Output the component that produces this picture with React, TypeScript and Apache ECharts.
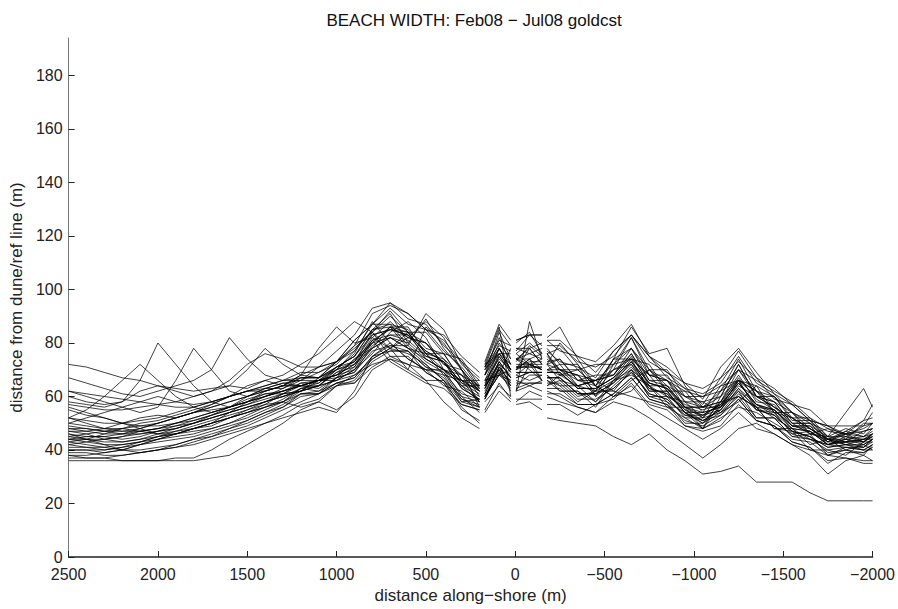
import React, { useEffect, useRef } from "react";
import * as echarts from "echarts";

const titleText = "BEACH WIDTH: Feb08 − Jul08 goldcst";
const xAxisName = "distance along−shore (m)";
const yAxisName = "distance from dune/ref line (m)";

// along-shore positions (m) of the transects
const distances = [
  2500, 2400, 2300, 2200, 2100, 2000, 1900, 1800, 1700, 1600,
  1500, 1400, 1300, 1200, 1100, 1000, 900, 800, 700, 600,
  500, 400, 300, 200, 170, 90, 25, -5, -80, -150,
  -178, -250, -350, -450, -550, -650, -750, -850, -950, -1050,
  -1150, -1250, -1350, -1450, -1550, -1650, -1750, -1850, -1950, -2000,
];
// transects with no data (lines are broken there)
const gapDistances = [183, 10, -163];

const yTicks = [0, 20, 40, 60, 80, 100, 120, 140, 160, 180];

// beach width (m), one array per survey
const p01 = [72,71,69,67,66,64,63,62,63,64, 63,66,64,68,67,73,78,84,90,84, 80,72,70,62,70,76,70,74,78,72, 75,70,68,60,72,74,68,60,58,52, 62,66,62,54,52,46,45,43,47,48];
const p02 = [36,36,36,36,36,36,37,37,40,44, 47,50,52,54,56,54,62,75,80,74, 70,68,58,56,60,70,64,68,66,68, 66,62,62,58,64,70,60,58,50,50, 54,60,52,52,45,44,40,41,40,42];
const p03 = [38,37,37,36,36,36,36,36,37,38, 42,46,50,55,58,64,66,74,78,84, 74,70,60,58,66,68,70,62,72,66, 72,66,64,58,66,74,62,62,54,50, 58,60,56,48,48,42,44,40,42,40];
const p04 = [40,40,39,40,42,44,45,46,48,50, 52,55,58,62,64,70,76,88,80,74, 70,64,62,56,64,76,70,76,72,70, 74,70,64,66,68,76,64,64,56,54, 56,66,56,55,48,47,42,44,43,45];
const p05 = [42,41,40,41,43,45,46,48,49,52, 54,57,58,63,65,70,72,82,88,82, 80,72,68,58,62,72,64,70,74,66, 68,62,62,56,66,68,64,56,56,48, 57,60,56,48,47,40,40,38,43,43];
const p06 = [45,44,43,43,44,46,47,49,51,53, 55,58,61,62,66,67,74,78,86,78, 76,68,66,58,68,78,70,74,72,72, 76,68,68,62,70,72,62,62,54,54, 56,66,55,54,46,47,42,44,42,44];
const p07 = [47,46,44,43,44,45,47,48,50,52, 55,57,61,62,67,70,77,85,91,80, 89,78,70,60,68,80,74,76,80,76, 78,72,72,64,74,78,68,66,58,56, 60,72,60,58,50,50,44,46,45,47];
const p08 = [48,48,47,47,48,50,52,54,55,56, 58,60,62,65,66,71,75,85,86,86, 76,74,64,64,70,82,72,78,76,78, 73,74,66,66,70,82,68,68,58,58, 60,72,60,60,51,51,44,47,45,48];
const p09 = [50,52,54,56,58,60,58,57,58,60, 62,63,65,66,69,72,79,84,92,84, 84,76,74,64,72,76,76,70,78,72, 76,70,70,64,74,74,72,62,62,54, 64,66,64,54,54,46,48,44,50,50];
const p10 = [55,53,52,50,49,49,50,51,53,55, 57,59,61,64,64,69,73,84,75,72, 66,66,58,59,60,70,62,66,64,66, 64,66,60,62,62,70,60,60,52,52, 54,62,52,52,45,46,38,40,38,42];
const p11 = [60,58,57,58,66,80,72,64,58,56, 58,61,61,65,65,71,73,83,85,84, 76,76,66,66,66,78,70,72,72,74, 70,72,64,66,68,76,66,66,56,56, 58,68,58,57,49,49,42,45,43,46];
const p12 = [62,60,58,56,54,56,66,78,70,62, 60,63,63,67,67,71,75,85,87,85, 78,76,66,64,64,78,70,74,74,76, 72,74,66,68,68,78,66,64,56,56, 58,70,60,58,50,50,43,46,43,46];
const p13 = [67,65,63,61,60,62,64,66,70,82, 74,68,66,69,69,73,77,87,87,79, 91,85,72,66,68,84,74,78,78,80, 76,78,70,72,72,82,70,70,60,60, 62,74,62,60,52,52,45,48,46,50];
const p14 = [57,56,55,55,56,57,58,60,62,64, 70,78,72,68,71,73,81,87,95,89, 87,79,73,63,71,81,79,77,83,79, 81,77,75,69,77,83,75,67,63,57, 67,73,67,59,57,51,49,46,51,52];
const p15 = [44,43,42,42,43,44,46,48,50,52, 54,56,58,61,61,65,67,75,77,77, 71,67,59,56,59,69,63,63,65,65, 63,63,57,57,61,67,59,57,51,49, 53,59,51,49,43,41,35,39,39,41];
const p16 = [46,45,45,44,45,47,49,51,53,55, 57,60,63,66,66,70,73,81,83,81, 75,73,65,63,65,75,69,71,71,71, 69,69,63,63,67,73,65,63,57,55, 57,65,57,55,49,49,45,54,63,56];
const p17 = [39,39,38,38,39,40,42,44,46,48, 50,53,56,61,61,67,71,81,73,69, 65,63,57,55,59,71,65,67,69,69, 67,67,61,61,65,71,63,61,54,51, 55,63,55,53,47,45,39,40,39,41];
const p18 = [41,41,41,42,43,45,46,47,48,50, 53,56,59,63,64,69,71,81,85,83, 77,73,63,59,63,75,69,71,73,73, 69,69,63,63,67,73,65,63,56,53, 57,65,57,54,48,47,42,43,41,43];
const p19 = [48,47,46,46,47,48,50,52,54,56, 58,60,62,64,66,68,72,78,82,78, 72,66,56,50,54,62,58,57,58,55, 52,51,50,49,45,42,46,40,36,31, 32,34,28,28,28,24,21,21,21,21];
const p20 = [43,42,41,40,40,41,42,44,45,47, 49,52,55,58,61,64,68,74,78,76, 72,66,60,54,60,68,64,62,64,62, 60,58,56,54,58,56,52,47,42,37, 42,48,50,46,42,38,31,36,38,36];
const p21 = [52,51,50,50,51,52,54,56,58,60, 62,64,66,66,71,73,81,87,93,87, 85,77,71,63,71,79,77,73,79,75, 77,73,71,67,77,83,75,69,65,59, 71,78,69,61,57,51,49,45,49,50];
const p22 = [43,44,46,48,47,46,48,50,53,56, 59,61,62,64,63,67,69,77,79,77, 69,65,57,55,59,71,65,65,65,65, 61,61,57,57,59,65,57,55,49,48, 51,59,51,49,44,43,38,41,41,44];
const p23 = [58,57,56,58,62,64,62,60,62,66, 72,76,74,71,71,77,83,93,95,91, 85,83,75,69,73,87,81,81,83,83, 81,81,75,73,79,87,75,71,65,63, 67,77,67,63,57,55,49,49,49,54];
const p24 = [46,44,42,40,39,40,41,43,45,48, 51,54,57,61,62,67,69,79,83,83, 77,73,63,59,61,71,67,69,69,69, 67,67,61,61,63,69,61,59,53,51, 53,61,55,53,47,45,41,42,41,44];
const p25 = [50,49,48,48,49,50,52,54,56,58, 60,62,64,68,78,86,80,82,78,70, 86,80,70,62,68,76,72,74,76,74, 72,70,68,66,72,78,70,64,60,56, 62,70,62,58,54,50,47,46,47,48];
const p26 = [40,40,40,41,42,43,44,45,47,49, 51,54,56,60,61,65,67,75,79,79, 73,69,59,57,61,73,67,67,69,69, 65,65,59,59,63,69,61,59,53,53, 55,63,57,55,49,48,43,47,51,57];
const p27 = [52,50,48,47,47,48,49,50,52,54, 56,58,60,63,62,65,65,71,75,75, 69,65,55,51,55,65,59,59,59,59, 57,57,53,57,61,67,59,57,49,47, 49,57,51,49,43,41,36,37,35,35];
const p28 = [37,37,37,38,39,40,41,42,44,46, 48,50,53,57,59,64,65,73,77,77, 71,69,61,59,63,73,67,71,71,71, 69,69,63,63,67,75,65,63,55,51, 55,65,57,53,47,45,41,42,40,42];
const p29 = [44,45,45,46,48,50,52,54,56,58, 60,62,64,67,67,73,79,91,94,91, 85,81,73,67,71,85,79,81,83,83, 79,79,73,71,75,83,73,69,63,61, 65,75,65,61,54,51,45,45,44,46];
const p30 = [62,61,60,59,58,57,56,56,58,60, 62,64,66,67,67,71,75,83,85,83, 75,73,65,61,63,73,67,69,69,69, 67,67,61,61,65,73,63,61,55,53, 57,67,59,55,49,47,43,43,43,45];
const p31 = [47,47,48,50,52,53,52,54,57,60, 62,62,64,64,66,68,70,76,84,88, 82,70,64,58,70,78,72,80,84,76, 82,86,74,64,60,62,70,66,60,58, 54,58,64,60,54,48,44,42,44,46];
const p32 = [56,54,52,50,48,46,46,48,50,54, 58,62,64,64,66,66,68,72,74,72, 70,70,68,64,66,68,66,64,68,68, 66,64,64,66,62,60,58,56,52,48, 52,56,54,50,46,44,42,41,40,40];
const p33 = [45,46,47,48,50,51,53,55,57,60, 64,66,68,72,76,82,88,84,78,82, 88,82,70,56,60,68,78,74,70,66, 64,68,70,64,60,66,70,62,54,48, 60,66,62,56,50,46,44,44,45,46];
const p34 = [42,43,44,45,47,48,50,52,54,56, 58,60,62,64,66,68,72,80,86,84, 76,70,66,62,64,70,66,70,72,70, 68,64,58,62,74,86,76,78,64,56, 56,62,56,52,48,44,42,43,44,44];
const p35 = [52,55,60,66,72,66,60,56,54,56, 60,63,65,64,66,68,74,80,82,78, 74,70,66,62,66,74,70,70,74,70, 70,68,64,62,66,70,64,58,54,50, 56,64,60,56,52,48,44,42,42,44];
const p36 = [44,44,44,45,46,47,48,50,52,54, 56,58,60,62,64,66,70,78,82,80, 74,70,64,60,64,72,68,68,72,70, 70,70,66,64,70,74,68,66,62,60, 64,70,66,62,58,52,48,46,48,50];
const p37 = [38,38,39,40,42,44,46,48,50,52, 54,56,58,56,58,55,60,70,74,70, 66,58,52,48,58,64,60,58,62,60, 62,60,56,54,60,64,56,52,48,44, 48,54,48,46,42,40,38,37,36,36];
const p38 = [49,48,47,46,46,47,48,50,52,54, 56,58,60,62,64,66,70,80,86,82, 80,74,68,62,72,86,60,62,88,74, 72,80,72,60,66,72,64,60,56,52, 58,66,60,56,52,48,44,43,44,45];

const profiles = [
  p01, p02, p03, p04, p05, p06, p07, p08, p09, p10,
  p11, p12, p13, p14, p15, p16, p17, p18, p19, p20,
  p21, p22, p23, p24, p25, p26, p27, p28, p29, p30,
  p31, p32, p33, p34, p35, p36, p37, p38,
];

const FONT = '"Liberation Sans", Arial, Helvetica, sans-serif';
const fmtX = (v: number) => (v < 0 ? "−" + Math.abs(v) : String(v));

export default function App() {
  const ref = useRef<HTMLDivElement>(null);
  useEffect(() => {
    document.body.style.margin = "0";
    if (!ref.current) return;
    const chart = echarts.init(ref.current, null, { renderer: "svg" });
    const series = profiles.map((p) => {
      const pts: any[] = distances.map((d, i) => [d, p[i]]);
      gapDistances.forEach((g) => pts.push([g, "-"]));
      pts.sort((a, b) => b[0] - a[0]);
      return {
        type: "line",
        data: pts,
        symbol: "none",
        showSymbol: false,
        connectNulls: false,
        silent: true,
        lineStyle: { color: "#000", width: 0.75 },
      };
    });
    chart.setOption({
      animation: false,
      backgroundColor: "#fff",
      grid: { left: 68, right: 22, top: 38, bottom: 52, containLabel: false },
      graphic: [
        {
          type: "text",
          x: 474,
          y: 20,
          style: {
            text: titleText,
            fill: "#111",
            fontSize: 17,
            fontFamily: FONT,
            textAlign: "center",
            textVerticalAlign: "middle",
            verticalAlign: "middle",
          },
        },
      ],
      xAxis: {
        type: "value",
        inverse: true,
        min: -2000,
        max: 2500,
        interval: 500,
        axisLine: { show: true, onZero: false, lineStyle: { color: "#222", width: 1.5 } },
        axisTick: { show: true, inside: true, length: 6, lineStyle: { color: "#222" } },
        axisLabel: { color: "#222", fontSize: 16, fontFamily: FONT, margin: 9, formatter: fmtX },
        splitLine: { show: false },
        name: xAxisName,
        nameLocation: "middle",
        nameGap: 28,
        nameTextStyle: { color: "#222", fontSize: 17, fontFamily: FONT },
      },
      yAxis: {
        type: "value",
        min: 0,
        max: 194,
        axisLine: { show: true, onZero: false, lineStyle: { color: "#777", width: 1 } },
        axisTick: { show: true, inside: true, length: 6, customValues: yTicks, lineStyle: { color: "#222" } },
        axisLabel: { color: "#222", fontSize: 16, fontFamily: FONT, margin: 6, customValues: yTicks },
        splitLine: { show: false },
        name: yAxisName,
        nameLocation: "middle",
        nameGap: 42,
        nameRotate: 90,
        nameTextStyle: { color: "#222", fontSize: 17, fontFamily: FONT },
      },
      series,
    });
    return () => chart.dispose();
  }, []);
  return <div ref={ref} style={{ width: 898, height: 609 }} />;
}
